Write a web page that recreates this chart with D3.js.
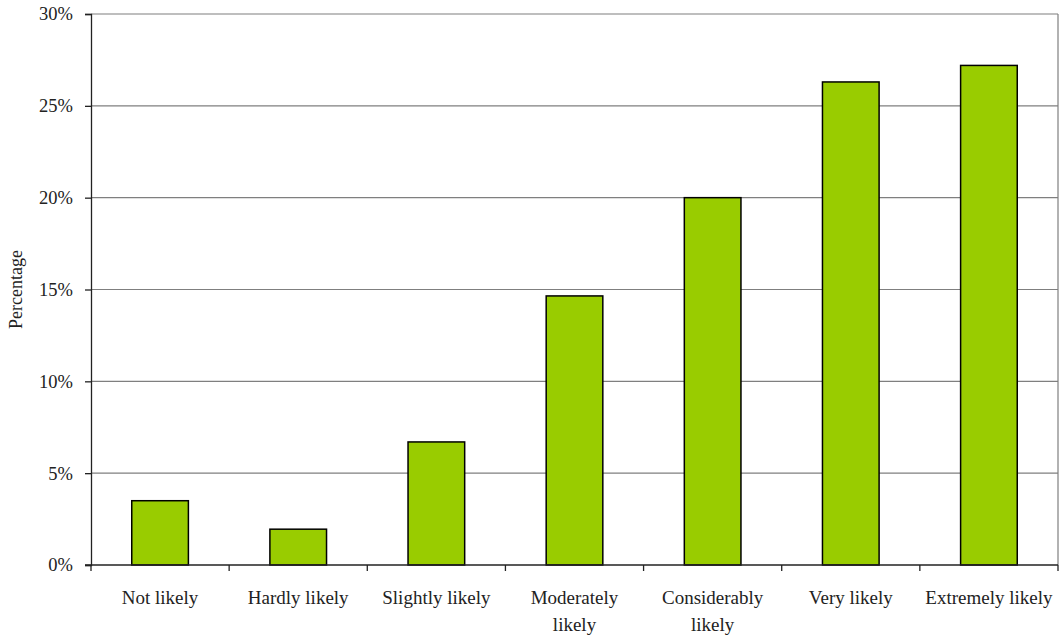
<!DOCTYPE html>
<html>
<head>
<meta charset="utf-8">
<script src="https://cdn.jsdelivr.net/npm/d3@7"></script>
<style>
  html, body { margin: 0; padding: 0; background: #fff; }
  svg { display: block; }
</style>
</head>
<body>
<svg id="chart" width="1059" height="637"></svg>
<script>
// Response categories (label lines)
const categories = [
  ["Not likely"],
  ["Hardly likely"],
  ["Slightly likely"],
  ["Moderately", "likely"],
  ["Considerably", "likely"],
  ["Very likely"],
  ["Extremely likely"]
];
// Share of respondents per category (%)
const percentages = [3.5, 1.95, 6.7, 14.65, 20.0, 26.3, 27.2];
// Y axis ticks (%)
const yTicks = [0, 5, 10, 15, 20, 25, 30];

const FONT = "'Liberation Serif', 'Times New Roman', 'DejaVu Serif', serif";

const svg = d3.select("#chart");
const m = { left: 91, right: 1058, top: 14, bottom: 565 };

const x = d3.scaleBand()
  .domain(d3.range(categories.length))
  .range([m.left, m.right])
  .paddingInner(0.59)
  .paddingOuter(0.295);

const xBand = d3.scaleBand()
  .domain(d3.range(categories.length))
  .range([m.left, m.right]);

const y = d3.scaleLinear().domain([0, 30]).range([m.bottom, m.top]);

// horizontal gridlines
svg.append("g")
  .selectAll("line")
  .data(yTicks.filter(d => d > 0))
  .join("line")
  .attr("x1", m.left).attr("x2", m.right)
  .attr("y1", d => y(d)).attr("y2", d => y(d))
  .attr("stroke", "#7f7f7f").attr("stroke-width", 1.2);

// right frame edge
svg.append("line")
  .attr("x1", m.right).attr("x2", m.right)
  .attr("y1", m.top).attr("y2", m.bottom)
  .attr("stroke", "#7f7f7f").attr("stroke-width", 1.2);

// bars
svg.append("g")
  .selectAll("rect")
  .data(percentages)
  .join("rect")
  .attr("x", (d, i) => x(i))
  .attr("width", x.bandwidth())
  .attr("y", d => y(d))
  .attr("height", d => y(0) - y(d))
  .attr("fill", "#99cc00")
  .attr("stroke", "#000")
  .attr("stroke-width", 1.5);

// y axis
const yAxis = d3.axisLeft(y)
  .tickValues(yTicks)
  .tickFormat(d => d + "%")
  .tickSize(6)
  .tickPadding(12);
const gy = svg.append("g")
  .attr("transform", `translate(${m.left},0)`)
  .call(yAxis)
  .attr("font-family", FONT)
  .attr("font-size", 18);
gy.select(".domain").attr("stroke", "#222").attr("stroke-width", 1.3);
gy.selectAll(".tick line").attr("stroke", "#222").attr("stroke-width", 1.3);
gy.selectAll(".tick text")
  .attr("fill", "#222")
  .style("font-family", FONT)
  .style("font-size", "18.5px");

// x axis baseline and boundary ticks
svg.append("line")
  .attr("x1", m.left - 6).attr("x2", m.right)
  .attr("y1", m.bottom).attr("y2", m.bottom)
  .attr("stroke", "#222").attr("stroke-width", 1.3);
svg.append("g")
  .selectAll("line")
  .data(d3.range(categories.length + 1))
  .join("line")
  .attr("x1", i => i < categories.length ? xBand(i) : m.right)
  .attr("x2", i => i < categories.length ? xBand(i) : m.right)
  .attr("y1", m.bottom).attr("y2", m.bottom + 6)
  .attr("stroke", "#222").attr("stroke-width", 1.3);

// category labels
const labels = svg.append("g")
  .selectAll("text")
  .data(categories)
  .join("text")
  .attr("text-anchor", "middle")
  .attr("fill", "#222")
  .style("font-family", FONT)
  .style("font-size", "19px")
  .attr("transform", (d, i) => `translate(${xBand(i) + xBand.bandwidth() / 2},${m.bottom + 39})`);
labels.selectAll("tspan")
  .data(d => d)
  .join("tspan")
  .attr("x", 0)
  .attr("dy", (d, j) => j === 0 ? 0 : 27)
  .text(d => d);

// y axis title
svg.append("text")
  .attr("transform", `translate(22,${(m.top + m.bottom) / 2}) rotate(-90)`)
  .attr("text-anchor", "middle")
  .attr("fill", "#222")
  .style("font-family", FONT)
  .style("font-size", "18px")
  .text("Percentage");
</script>
</body>
</html>
